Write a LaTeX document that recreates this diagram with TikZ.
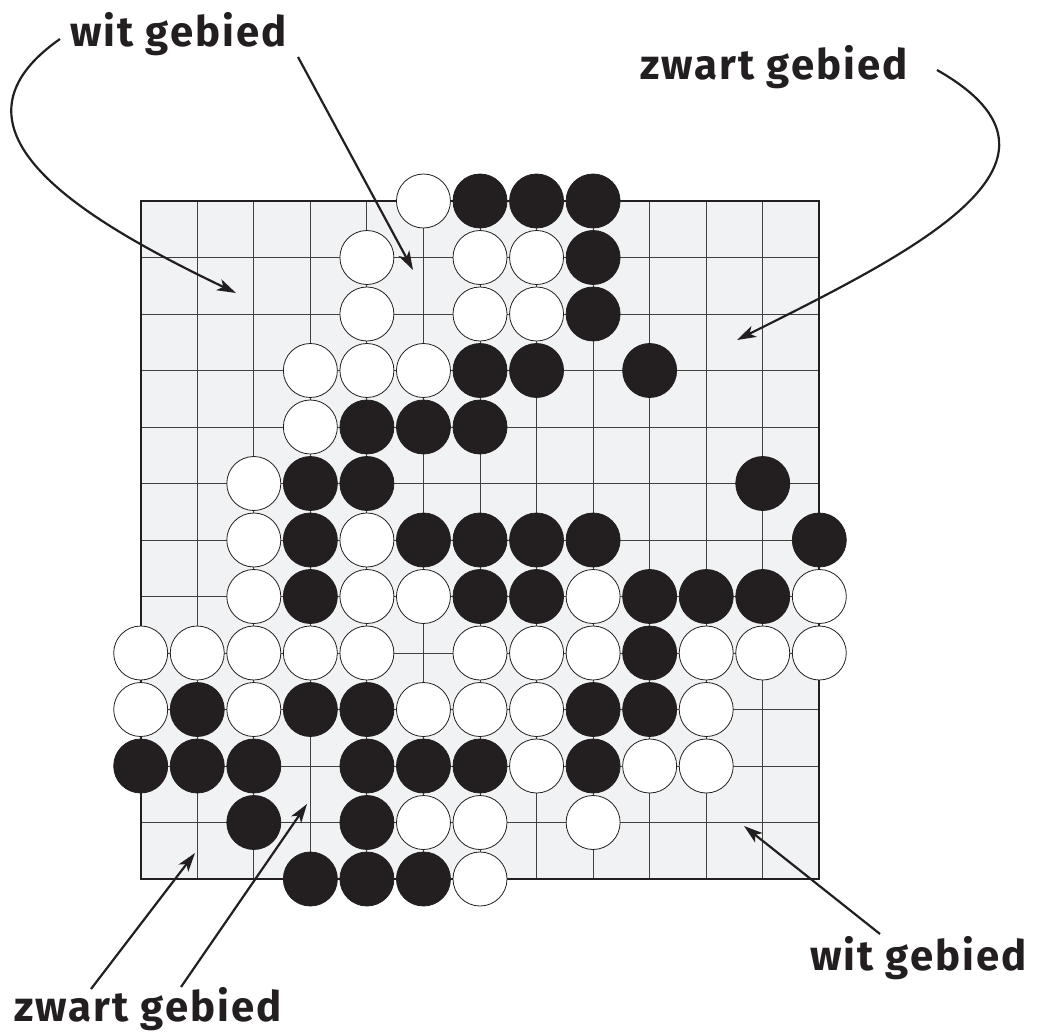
\documentclass[tikz,border=0pt]{standalone}
\usepackage{fontspec}
\newfontfamily\labelfont[LetterSpace=5]{Fira Sans}
\usepackage{tikz}
\usetikzlibrary{arrows.meta,positioning,calc}
\definecolor{boardgray}{HTML}{F1F2F4}
\definecolor{stoneblack}{HTML}{231F20}

\begin{document}
\begin{tikzpicture}[x=1pt, y=-1pt,
    wstone/.style={circle, draw=stoneblack, line width=0.8pt, fill=white, minimum size=54pt, inner sep=0pt},
    bstone/.style={wstone, fill=stoneblack},
    gebied/.style={font=\labelfont\bfseries\fontsize{42}{46}\selectfont, inner sep=0pt, text=stoneblack},
    pointer/.style={line width=2.2pt, draw=stoneblack, -{Stealth[length=19pt,width=12pt,inset=5pt]}}]
\useasboundingbox (0,0) rectangle (1043,1035);

% Board
\begin{scope}[shift={(140.7,201)}, x=56.55pt, y=-56.5pt]
  \fill[boardgray] (0,0) rectangle (12,12);
  \foreach \i in {1,...,11} {
    \draw[line width=0.9pt, black!75] (\i,0) -- (\i,12);
    \draw[line width=0.9pt, black!75] (0,\i) -- (12,\i);
  }
  \draw[line width=2pt, stoneblack] (0,0) rectangle (12,12);

  % White stones
  \foreach \c/\r in {5/0, 4/1,6/1,7/1, 4/2,6/2,7/2, 3/3,4/3,5/3, 3/4, 2/5, 2/6,4/6,
      2/7,4/7,5/7,8/7,12/7, 0/8,1/8,2/8,3/8,4/8,6/8,7/8,8/8,10/8,11/8,12/8,
      0/9,2/9,5/9,6/9,7/9,10/9, 7/10,9/10,10/10, 5/11,6/11,8/11, 6/12}
    \node[wstone] (w-\c-\r) at (\c,\r) {};

  % Black stones
  \foreach \c/\r in {6/0,7/0,8/0, 8/1, 8/2, 6/3,7/3,9/3, 4/4,5/4,6/4, 3/5,4/5,11/5,
      3/6,5/6,6/6,7/6,8/6,12/6, 3/7,6/7,7/7,9/7,10/7,11/7, 9/8,
      1/9,3/9,4/9,8/9,9/9, 0/10,1/10,2/10,4/10,5/10,6/10,8/10, 2/11,4/11, 3/12,4/12,5/12}
    \node[bstone] (b-\c-\r) at (\c,\r) {};
\end{scope}

% Labels
\node[gebied, anchor=base west] (witTop) at (70,47) {wit gebied};
\node[gebied, anchor=base west] (zwartTop) at (640,80) {zwart gebied};
\node[gebied, anchor=base west] (zwartBot) at (14,1021) {zwart gebied};
\node[gebied, anchor=base west] (witBot) at (810,970) {wit gebied};

% Arrow ends
\coordinate (witStartA) at (60,39);
\coordinate (witTipA) at (236,293);
\coordinate (witStartB) at (298,57);
\coordinate (witTipB) at (413,270);
\coordinate (zwartStartA) at (937,70);
\coordinate (zwartTipA) at (737,340);
\coordinate (zwartStartB) at (91,989);
\coordinate (zwartTipB) at (195,853);
\coordinate (zwartStartC) at (181,987);
\coordinate (zwartTipC) at (307,804);
\coordinate (witStartC) at (880,934);
\coordinate (witTipC) at (744,826);

% Arrows
\draw[pointer] (witStartA) .. controls (-70,130) and (86,221) .. (witTipA);
\draw[pointer] (witStartB) -- (witTipB);
\draw[pointer] (zwartStartA) .. controls (1097,161) and (917,250) .. (zwartTipA);
\draw[pointer] (zwartStartB) -- (zwartTipB);
\draw[pointer] (zwartStartC) -- (zwartTipC);
\draw[pointer] (witStartC) -- (witTipC);
\end{tikzpicture}
\end{document}
